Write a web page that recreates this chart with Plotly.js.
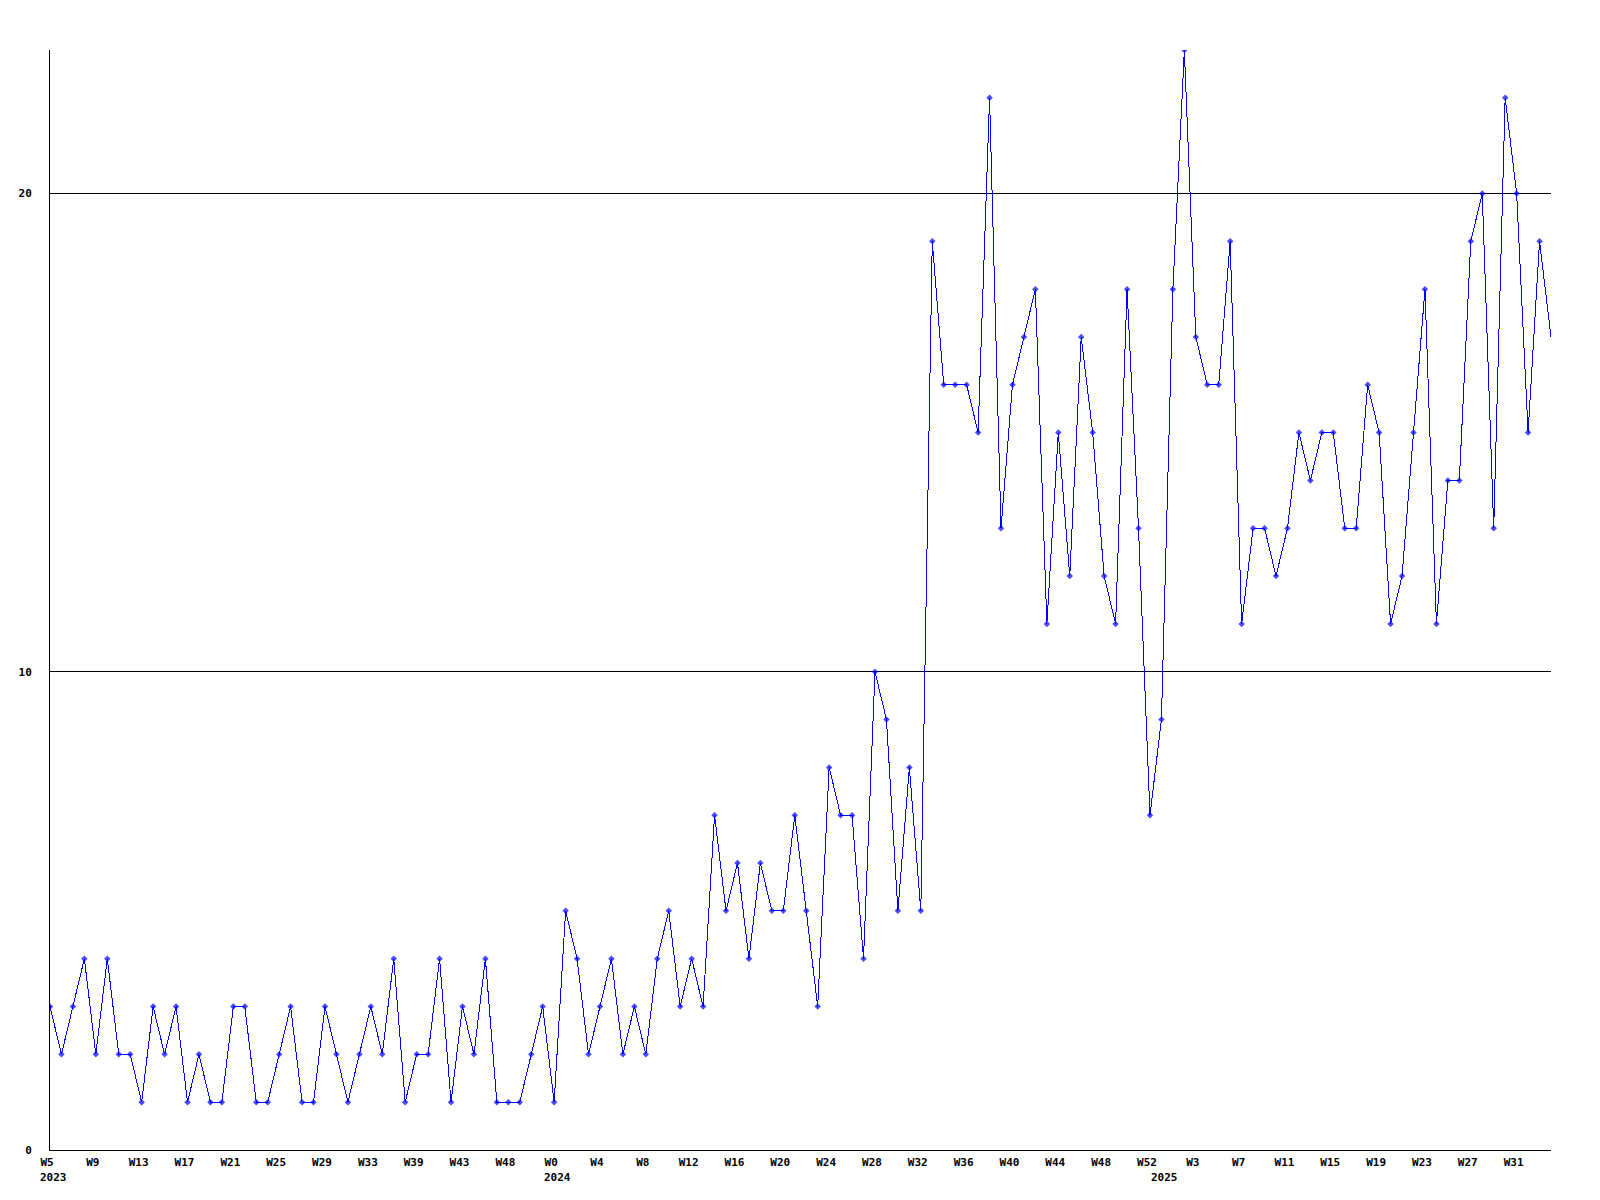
<!DOCTYPE html>
<html>
<head>
<meta charset="utf-8">
<script src="https://cdn.plot.ly/plotly-3.0.1.min.js"></script>
<style>
html,body{margin:0;padding:0;background:#fff;}
#chart{width:1600px;height:1200px;}
#chart path.js-line{shape-rendering:crispEdges;}
#chart .ygrid, #chart .xlines-above, #chart .ylines-above{shape-rendering:crispEdges;}
</style>
</head>
<body>
<div id="chart"></div>
<script>
const weeklyValues = [
  3,2,3,4,2,4,2,2,1,3,2,3,1,2,1,1,3,3,1,1,2,3,
  1,1,3,2,1,2,3,2,4,1,2,2,4,1,3,2,4,1,1,1,2,3,1,
  5,4,2,3,4,2,3,2,4,5,3,4,3,7,5,6,4,6,5,5,7,
  5,3,8,7,7,4,10,9,5,8,5,
  19,16,16,16,15,22,13,16,17,18,11,15,12,17,15,12,11,18,
  13,7,9,18,23,17,16,16,19,11,13,13,12,13,15,
  14,15,15,13,13,16,15,11,12,15,18,11,14,14,19,20,13,22,20,15,19,17
];
const weekTickLabels = ["W5","W9","W13","W17","W21","W25","W29","W33","W39","W43","W48",
  "W0","W4","W8","W12","W16","W20","W24","W28","W32","W36","W40","W44","W48","W52",
  "W3","W7","W11","W15","W19","W23","W27","W31"];
const tickEvery = 4;
const yearLabels = ["2023","2024","2025"];
const yearStartIndex = [0,44,97];
const yTickVals = [0,10,20];

const xs = weeklyValues.map((v,i)=>i);
const tickVals = weekTickLabels.map((t,i)=>i*tickEvery);
const font = {family:"DejaVu Sans Mono, monospace", size:11, color:"#000", weight:"bold"};
const sizes = weeklyValues.map((v,i)=> i===weeklyValues.length-1 ? 0 : 5);

const trace = {
  x: xs, y: weeklyValues, type:"scatter", mode:"lines+markers",
  line:{color:"#0000ff", width:1},
  marker:{color:"#0000ff", size:sizes, symbol:"diamond", line:{width:0}},
  hoverinfo:"skip"
};

const annotations = yearLabels.map((t,i)=>({
  text:t, x:yearStartIndex[i], xref:"x", y:0, yref:"paper",
  yshift:-27, xshift:3, yanchor:"middle", xanchor:"center", showarrow:false, font:font
}));

const layout = {
  width:1600, height:1200,
  margin:{l:50, r:49, t:50, b:50},
  paper_bgcolor:"#fff", plot_bgcolor:"#fff",
  showlegend:false,
  font:font,
  xaxis:{range:[0, weeklyValues.length-1], tickmode:"array", tickvals:tickVals, ticktext:weekTickLabels,
    showgrid:false, zeroline:false, showline:true, linecolor:"#000", linewidth:1, ticks:"",
    tickfont:font, ticklabelstandoff:2, ticklabelshift:-3},
  yaxis:{range:[0,23], tickmode:"array", tickvals:yTickVals, ticktext:yTickVals.map(String),
    showgrid:true, gridcolor:"#000", gridwidth:1, zeroline:false, showline:true, linecolor:"#000", linewidth:1,
    ticks:"", tickfont:font, ticklabelstandoff:15},
  annotations:annotations
};

Plotly.newPlot("chart", [trace], layout, {displayModeBar:false, staticPlot:true});
</script>
</body>
</html>
